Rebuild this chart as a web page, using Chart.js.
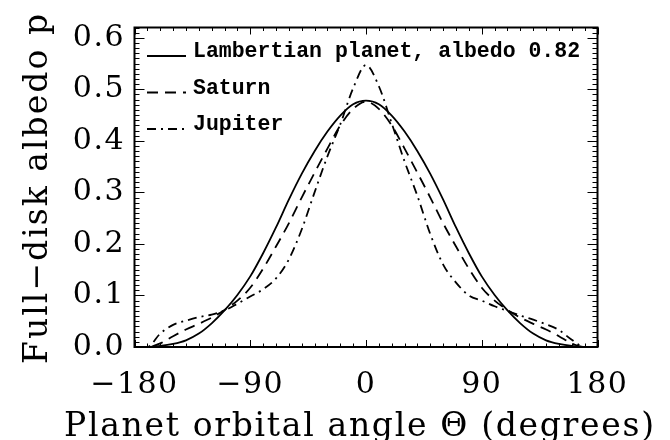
<!DOCTYPE html>
<html lang="en">
<head>
    <meta charset="UTF-8">
    <title>Full-disk albedo vs orbital angle</title>
    <script src="https://cdn.jsdelivr.net/npm/chart.js"></script>
    <style>
        body {
            margin: 0;
            padding: 0;
            background-color: #fff;
        }

        #chart-container {
            width: 670px;
            height: 440px;
        }
    </style>
</head>
<body>
    <div id="chart-container">
        <canvas id="albedoChart" width="670" height="440"></canvas>
    </div>
    <script>
        // Orbital angle (degrees)
        const angles = [-180, -170, -160, -150, -140, -130, -120, -110, -100, -90, -80, -70, -60, -50, -40, -30, -20, -10,
            0, 10, 20, 30, 40, 50, 60, 70, 80, 90, 100, 110, 120, 130, 140, 150, 160, 170, 180];

        // Full-disk albedo
        const lambert = [0, 0, 0.002, 0.006, 0.013, 0.026, 0.046, 0.071, 0.101, 0.137, 0.182, 0.232, 0.286, 0.336, 0.380, 0.418, 0.449, 0.471,
            0.478, 0.471, 0.449, 0.418, 0.380, 0.336, 0.286, 0.232, 0.182, 0.137, 0.101, 0.071, 0.046, 0.026, 0.013, 0.006, 0.002, 0, 0];
        const saturn = [0, 0, 0.007, 0.021, 0.034, 0.045, 0.057, 0.072, 0.090, 0.115, 0.152, 0.195, 0.240, 0.290, 0.338, 0.385, 0.430, 0.462,
            0.476, 0.462, 0.430, 0.385, 0.338, 0.290, 0.240, 0.195, 0.152, 0.115, 0.090, 0.072, 0.057, 0.045, 0.034, 0.021, 0.007, 0, 0];
        const jupiter = [0, 0, 0.026, 0.043, 0.051, 0.058, 0.063, 0.071, 0.084, 0.098, 0.112, 0.133, 0.170, 0.228, 0.300, 0.370, 0.432, 0.502,
            0.547, 0.506, 0.434, 0.360, 0.293, 0.219, 0.160, 0.125, 0.100, 0.090, 0.079, 0.070, 0.061, 0.053, 0.044, 0.033, 0.014, 0, 0];

        const seriesNames = ['Lambertian planet, albedo 0.82', 'Saturn', 'Jupiter'];

        // Tick labels and axis titles
        const xTicks = [-180, -90, 0, 90, 180];
        const xTickLabels = ['\u2212180', '\u221290', '0', '90', '180'];
        const yTicks = [0, 0.1, 0.2, 0.3, 0.4, 0.5, 0.6];
        const yTickLabels = ['0.0', '0.1', '0.2', '0.3', '0.4', '0.5', '0.6'];
        const xTitle = 'Planet orbital angle \u0398 (degrees)';
        const yTitle = 'Full\u2212disk albedo p';
        const xMinorStep = 10;
        const yMinorStep = 0.01;

        const toPoints = values => angles.map((a, i) => ({ x: a, y: values[i] }));

        // draws text with its letters spread out to fill a given length
        function spacedText(ctx, text, x, y, length) {
            ctx.letterSpacing = '0px';
            const w = ctx.measureText(text).width;
            const gap = (length - w) / (text.length - 1);
            ctx.letterSpacing = gap + 'px';
            ctx.textAlign = 'left';
            ctx.fillText(text, x, y);
        }

        // IDL-like frame: box with inward ticks on all four sides, plus axis titles
        const framePlugin = {
            id: 'frame',
            beforeDraw(chart) {
                // tick labels are set a bit wider, like the original vector font
                chart.ctx.letterSpacing = '1.5px';
            },
            afterDatasetsDraw(chart) {
                const { ctx, chartArea: a, scales: { x, y } } = chart;
                ctx.save();
                ctx.strokeStyle = '#000';
                ctx.lineWidth = 1;
                ctx.beginPath();
                for (let v = x.min; v <= x.max + 1e-9; v += xMinorStep) {
                    const px = Math.round(x.getPixelForValue(v)) + 0.5;
                    const len = Math.abs(v % 90) < 1e-9 ? 7 : 3.5;
                    ctx.moveTo(px, a.bottom);
                    ctx.lineTo(px, a.bottom - len);
                    ctx.moveTo(px, a.top);
                    ctx.lineTo(px, a.top + len);
                }
                const n = Math.round((y.max - y.min) / yMinorStep);
                for (let i = 0; i <= n; i++) {
                    const py = Math.round(y.getPixelForValue(y.min + i * yMinorStep)) + 0.5;
                    const len = i % 10 === 0 ? 10 : 5;
                    ctx.moveTo(a.left, py);
                    ctx.lineTo(a.left + len, py);
                    ctx.moveTo(a.right, py);
                    ctx.lineTo(a.right - len, py);
                }
                ctx.stroke();
                ctx.lineWidth = 2;
                ctx.strokeRect(a.left, a.top, a.width, a.height);

                // axis titles
                ctx.fillStyle = '#000';
                ctx.font = '33px "DejaVu Serif"';
                ctx.textBaseline = 'alphabetic';
                spacedText(ctx, xTitle, 64, 436, 590);
                ctx.translate(47, 364);
                ctx.rotate(-Math.PI / 2);
                spacedText(ctx, yTitle, 0, 0, 350);
                ctx.restore();
            }
        };

        // Legend drawn inside the plot, line at the text baseline
        const legendPlugin = {
            id: 'idlLegend',
            afterDatasetsDraw(chart) {
                const ctx = chart.ctx;
                ctx.save();
                ctx.letterSpacing = '0px';
                chart.data.datasets.forEach((ds, i) => {
                    const base = 57 + i * 36.5;
                    ctx.strokeStyle = '#000';
                    ctx.lineWidth = ds.borderWidth;
                    ctx.setLineDash(ds.borderDash || []);
                    ctx.beginPath();
                    ctx.moveTo(147, base - 1);
                    ctx.lineTo(186, base - 1);
                    ctx.stroke();
                    ctx.setLineDash([]);
                    ctx.font = 'bold 21.5px "Liberation Mono"';
                    ctx.fillStyle = '#000';
                    ctx.textBaseline = 'alphabetic';
                    ctx.fillText(ds.label, 193, base);
                });
                ctx.restore();
            }
        };

        const lineStyle = {
            borderColor: '#000',
            borderWidth: 1.8,
            pointRadius: 0,
            fill: false,
            cubicInterpolationMode: 'monotone'
        };

        const tickFont = { family: 'DejaVu Serif', size: 30 };

        new Chart(document.getElementById('albedoChart').getContext('2d'), {
            type: 'line',
            data: {
                datasets: [
                    { label: seriesNames[0], data: toPoints(lambert), ...lineStyle },
                    { label: seriesNames[1], data: toPoints(saturn), ...lineStyle, borderDash: [11, 7] },
                    { label: seriesNames[2], data: toPoints(jupiter), ...lineStyle, borderDash: [9, 5, 2, 5] }
                ]
            },
            options: {
                responsive: false,
                animation: false,
                devicePixelRatio: 1,
                layout: { padding: { left: 0, right: 72.5, top: 25, bottom: 0 } },
                plugins: {
                    legend: { display: false },
                    tooltip: { enabled: false }
                },
                scales: {
                    x: {
                        type: 'linear',
                        min: -180,
                        max: 180,
                        grid: { display: false, drawTicks: false },
                        border: { display: false },
                        afterBuildTicks: s => { s.ticks = xTicks.map(v => ({ value: v })); },
                        afterFit: s => { s.height = 93; },
                        ticks: {
                            font: tickFont,
                            color: '#000',
                            padding: 20,
                            maxRotation: 0,
                            autoSkip: false,
                            callback: (v, i) => xTickLabels[i]
                        }
                    },
                    y: {
                        type: 'linear',
                        min: 0,
                        max: 0.62,
                        grid: { display: false, drawTicks: false },
                        border: { display: false },
                        afterBuildTicks: s => { s.ticks = yTicks.map(v => ({ value: v })); },
                        afterFit: s => { s.width = 134.5; },
                        ticks: {
                            font: tickFont,
                            color: '#000',
                            padding: 9.5,
                            autoSkip: false,
                            callback: (v, i) => yTickLabels[i]
                        }
                    }
                }
            },
            plugins: [framePlugin, legendPlugin]
        });
    </script>
</body>
</html>
